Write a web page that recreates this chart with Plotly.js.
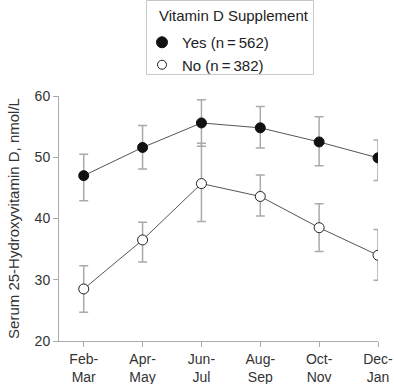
<!DOCTYPE html>
<html><head><meta charset="utf-8">
<script src="https://cdn.plot.ly/plotly-3.0.1.min.js"></script>
<style>body{margin:0;background:#fff}#c{width:394px;height:384px}</style>
</head><body><div id="c"></div>
<script>
const periods = ["Feb-<br>Mar","Apr-<br>May","Jun-<br>Jul","Aug-<br>Sep","Oct-<br>Nov","Dec-<br>Jan"];
const yesMean = [47.0, 51.6, 55.6, 54.8, 52.5, 49.9];
const yesUpper = [50.5, 55.2, 59.4, 58.3, 56.6, 52.8];
const yesLower = [42.9, 48.1, 51.8, 51.5, 48.6, 46.2];
const noMean = [28.5, 36.5, 45.7, 43.6, 38.5, 34.0];
const noUpper = [32.3, 39.4, 52.3, 47.1, 42.4, 38.2];
const noLower = [24.7, 32.9, 39.5, 40.4, 34.6, 29.9];
const yesLabel = "Yes (n\u2009=\u2009562)";
const noLabel = "No (n\u2009=\u2009382)";
const legendTitle = "Vitamin D Supplement";

const W = 394, H = 384, L = 59, R = 16, T = 96, B = 43;
const pw = W - L - R, ph = H - T - B;
const px2x = p => (p - L) / pw;
const py2y = p => (H - B - p) / ph;

const idx = periods.map((_, i) => i);
const up = (u, m) => u.map((v, i) => +(v - m[i]).toFixed(2));
const dn = (l, m) => l.map((v, i) => +(m[i] - v).toFixed(2));
const errStyle = {type: 'data', symmetric: false, color: '#aaaaaa', thickness: 1.5, width: 4.5};

const traces = [
  {x: idx, y: noMean, mode: 'lines+markers', showlegend: false,
   line: {color: '#555', width: 1},
   marker: {size: 10, color: '#fff', line: {color: '#222', width: 1}},
   error_y: Object.assign({array: up(noUpper, noMean), arrayminus: dn(noLower, noMean)}, errStyle)},
  {x: idx, y: yesMean, mode: 'lines+markers', showlegend: false,
   line: {color: '#555', width: 1},
   marker: {size: 10, color: '#111', line: {color: '#111', width: 1}},
   error_y: Object.assign({array: up(yesUpper, yesMean), arrayminus: dn(yesLower, yesMean)}, errStyle)},
  {x: [null], y: [null], mode: 'markers', name: yesLabel,
   marker: {size: 11, color: '#111', line: {color: '#111', width: 1}}},
  {x: [null], y: [null], mode: 'markers', name: noLabel,
   marker: {size: 9, color: '#fff', line: {color: '#222', width: 1}}}
];

const layout = {
  width: W, height: H,
  margin: {l: L, r: R, t: T, b: B, autoexpand: false},
  paper_bgcolor: '#fff', plot_bgcolor: '#fff',
  font: {family: 'Liberation Sans, Arial, sans-serif', size: 14, color: '#333'},
  showlegend: true,
  legend: {
    x: px2x(142), y: py2y(26), xanchor: 'left', yanchor: 'top',
    borderwidth: 0, bgcolor: 'rgba(0,0,0,0)',
    font: {size: 15, color: '#222'},
    tracegroupgap: 0, itemwidth: 30
  },
  shapes: [{type: 'rect', xref: 'paper', yref: 'paper',
    x0: px2x(146.5), x1: px2x(313.5), y0: py2y(74.5), y1: py2y(0.5),
    line: {color: '#c8c8c8', width: 1}, fillcolor: 'rgba(0,0,0,0)'}],
  annotations: [{text: legendTitle, xref: 'paper', yref: 'paper', x: px2x(157), y: py2y(15),
    xanchor: 'left', yanchor: 'middle', showarrow: false, font: {size: 15, color: '#222'}}],
  xaxis: {
    range: [-0.42, 5.0], tickvals: idx, ticktext: periods,
    showgrid: false, zeroline: false, showline: true, linecolor: '#aaa', linewidth: 1,
    ticks: 'outside', ticklen: 5, tickcolor: '#aaa', tickfont: {size: 14, color: '#333'}
  },
  yaxis: {
    range: [20, 60], tickvals: [20, 30, 40, 50, 60],
    showgrid: false, zeroline: false, showline: true, linecolor: '#aaa', linewidth: 1,
    ticks: 'outside', ticklen: 5, tickcolor: '#aaa', tickfont: {size: 14, color: '#333'},
    title: {text: 'Serum 25-Hydroxyvitamin D, nmol/L', font: {size: 15, color: '#333'}}
  }
};

Plotly.newPlot('c', traces, layout, {displayModeBar: false, staticPlot: true});
</script></body></html>
